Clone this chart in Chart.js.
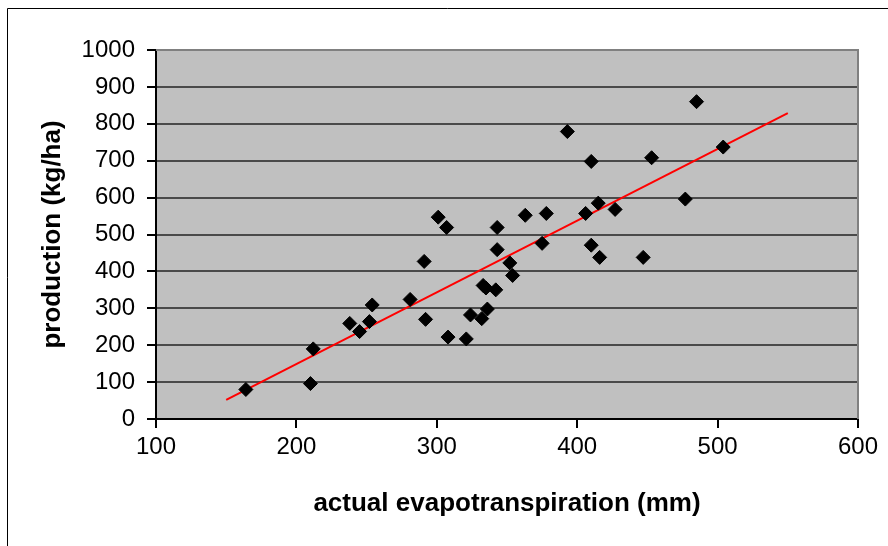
<!DOCTYPE html>
<html>
<head>
<meta charset="utf-8">
<script src="https://cdn.jsdelivr.net/npm/chart.js@4.4.0/dist/chart.umd.min.js"></script>
<style>
  html, body { margin: 0; padding: 0; background: #ffffff; }
  #wrap { position: relative; width: 888px; height: 546px; }
</style>
</head>
<body>
<div id="wrap"><canvas id="c" width="888" height="546"></canvas></div>
<script>
// Observed data: actual evapotranspiration (mm) vs production (kg/ha)
const evapotranspiration = [164, 210, 212, 238, 245, 252, 254, 281, 291, 292, 301, 307, 308, 321, 324, 332, 336, 333, 335, 342, 343, 343, 352, 354, 363, 375, 378, 393, 406, 410, 410, 415, 416, 427, 447, 453, 477, 485, 504];
const production        = [80, 96, 190, 259, 237, 264, 309, 324, 427, 270, 547, 519, 222, 217, 282, 272, 298, 362, 355, 350, 459, 519, 423, 389, 552, 476, 557, 779, 557, 698, 471, 585, 438, 568, 438, 708, 596, 860, 737];
// Linear trend line end points
const trendX = [150, 550];
const trendY = [52, 829];
// Axis ticks
const xTicks = [100, 200, 300, 400, 500, 600];
const yTicks = [0, 100, 200, 300, 400, 500, 600, 700, 800, 900, 1000];

const scatterPoints = evapotranspiration.map((x, i) => ({ x: x, y: production[i] }));
const trendPoints = trendX.map((x, i) => ({ x: x, y: trendY[i] }));

const plotBg = {
  id: 'plotBg',
  beforeDraw(chart) {
    const { ctx, chartArea: a } = chart;
    ctx.save();
    ctx.fillStyle = '#ffffff';
    ctx.fillRect(0, 0, chart.width, chart.height);
    ctx.fillStyle = '#c0c0c0';
    ctx.fillRect(a.left, a.top, a.right - a.left, a.bottom - a.top);
    // outer frame (left and top edges visible)
    ctx.strokeStyle = '#000000';
    ctx.lineWidth = 1;
    ctx.beginPath();
    ctx.moveTo(7.5, 546);
    ctx.lineTo(7.5, 8.5);
    ctx.lineTo(888, 8.5);
    ctx.stroke();
    ctx.restore();
  },
  beforeDatasetsDraw(chart) {
    const { ctx, chartArea: a } = chart;
    ctx.save();
    ctx.strokeStyle = '#808080';
    ctx.lineWidth = 2;
    ctx.beginPath();
    ctx.moveTo(a.left, a.top);
    ctx.lineTo(a.right, a.top);
    ctx.lineTo(a.right, a.bottom);
    ctx.stroke();
    ctx.restore();
  }
};

const tickFont = { family: '"Liberation Sans", Arial, sans-serif', size: 24 };
const titleFont = { family: '"Liberation Sans", Arial, sans-serif', size: 26, weight: 'bold' };

new Chart(document.getElementById('c'), {
  type: 'scatter',
  data: {
    datasets: [
      {
        label: 'observations',
        data: scatterPoints,
        pointStyle: 'rectRot',
        pointRadius: 7,
        pointHoverRadius: 7,
        backgroundColor: '#000000',
        borderColor: '#000000',
        borderWidth: 1,
        order: 1
      },
      {
        label: 'trend',
        type: 'line',
        data: trendPoints,
        borderColor: '#ff0000',
        borderWidth: 2,
        pointRadius: 0,
        fill: false,
        order: 2
      }
    ]
  },
  options: {
    responsive: false,
    animation: false,
    events: [],
    layout: { padding: { left: 0, right: 30, top: 50, bottom: 0 } },
    plugins: {
      legend: { display: false },
      tooltip: { enabled: false }
    },
    scales: {
      x: {
        type: 'linear',
        min: 100,
        max: 600,
        afterBuildTicks(scale) { scale.ticks = xTicks.map(v => ({ value: v })); },
        afterFit(scale) { scale.height = 127; },
        grid: {
          drawOnChartArea: false,
          drawTicks: true,
          tickLength: 9,
          tickColor: '#000000',
          lineWidth: 2
        },
        border: { color: '#000000', width: 2 },
        ticks: {
          color: '#000000',
          padding: 5,
          maxRotation: 0,
          font: tickFont,
          callback: (v) => String(v)
        },
        title: {
          display: true,
          text: 'actual evapotranspiration (mm)',
          color: '#000000',
          padding: { top: 0, bottom: 27 },
          font: titleFont
        }
      },
      y: {
        type: 'linear',
        min: 0,
        max: 1000,
        afterBuildTicks(scale) { scale.ticks = yTicks.map(v => ({ value: v })); },
        afterFit(scale) { scale.width = 156; },
        grid: {
          color: '#4a4a4a',
          lineWidth: 2,
          drawTicks: true,
          tickLength: 9,
          tickColor: '#000000'
        },
        border: { color: '#000000', width: 2 },
        ticks: {
          color: '#000000',
          padding: 12,
          font: tickFont,
          callback: (v) => String(v)
        },
        title: {
          display: true,
          text: 'production (kg/ha)',
          color: '#000000',
          padding: { top: 37, bottom: 0 },
          font: titleFont
        }
      }
    }
  },
  plugins: [plotBg]
});
</script>
</body>
</html>
